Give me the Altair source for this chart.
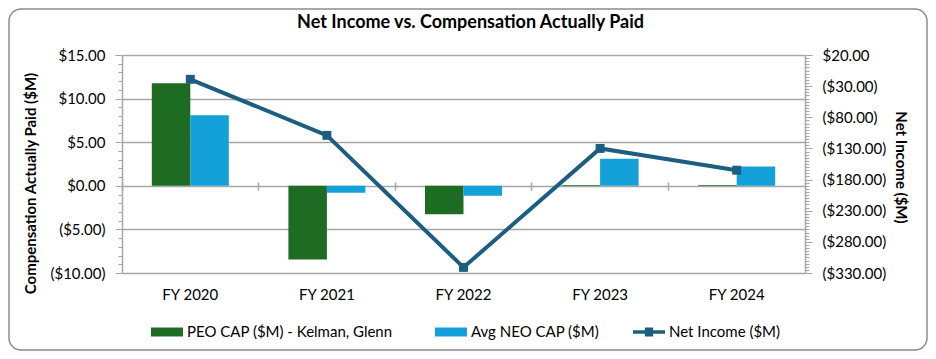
import altair as alt
import pandas as pd

# ---- data ----
years = ["FY 2020", "FY 2021", "FY 2022", "FY 2023", "FY 2024"]
peo_cap = [11.75, -8.45, -3.25, 0.08, 0.08]
neo_cap = [8.1, -0.8, -1.15, 3.1, 2.2]
net_income = [-19.0, -109.0, -321.0, -130.0, -165.0]
series = ["PEO CAP ($M) - Kelman, Glenn", "Avg NEO CAP ($M)", "Net Income ($M)"]
colors = ["#1e6b23", "#14a0d8", "#1b5e80"]
left_ticks = list(range(-10, 16))
right_ticks = list(range(-330, 21, 5))

bars_df = pd.DataFrame({
    "year": years * 2,
    "series": [series[0]] * 5 + [series[1]] * 5,
    "value": peo_cap + neo_cap,
})
line_df = pd.DataFrame({"year": years, "value": net_income, "series": [series[2]] * 5})
frame_df = pd.DataFrame({"k": [0]})

FONT = "Lato"
GRID = "#a6a6a6"
W, H = 683, 218
RECT_PATH = "M-1,-0.28L1,-0.28L1,0.28L-1,0.28Z"
LINE_PATH = "M-1,-0.11L1,-0.11L1,0.11L-1,0.11Z M-0.26,-0.28L0.26,-0.28L0.26,0.28L-0.26,0.28Z"

x_scale = alt.Scale(domain=years, paddingInner=0, paddingOuter=0)

x_bottom = alt.X(
    "year:N", sort=years, scale=x_scale,
    axis=alt.Axis(orient="bottom", title=None, labelAngle=0, ticks=False, domain=False,
                  grid=False, labelPadding=14, labelFontSize=15, labelFont=FONT,
                  labelColor="#000000"),
)
x_top = alt.X(
    "year:N", sort=years, scale=x_scale,
    axis=alt.Axis(orient="top", title=None, labels=False, domain=False, grid=False,
                  ticks=True, tickSize=8, tickColor=GRID, tickWidth=1.5,
                  bandPosition=0, offset=-135),
)

left_label = ("datum.value % 5 != 0 ? '' : (datum.value < 0 ? '($' + format(-datum.value, '.2f') + ')'"
              " : '$' + format(datum.value, '.2f'))")
right_label = ("(datum.value - 20) % 50 != 0 ? '' : (datum.value < 0 ? '($' + format(-datum.value, '.2f') + ')'"
               " : '$' + format(datum.value, '.2f'))")

y_left = alt.Y(
    "value:Q",
    scale=alt.Scale(domain=[-10, 15], nice=False, zero=False),
    axis=alt.Axis(
        values=left_ticks, labelExpr=left_label, orient="left",
        title="Compensation Actually Paid ($M)", titleFont=FONT, titleFontSize=15,
        titleFontWeight="bold", titleColor="#000000", titleAngle=270,
        titleX=-92, titleY=128, titleAlign="center", titleBaseline="middle",
        labelFont=FONT, labelFontSize=15, labelColor="#000000", labelPadding=10,
        domainColor=GRID, domainWidth=1.5, tickColor=GRID,
        tickSize={"condition": {"test": "datum.value % 5 == 0", "value": 7}, "value": 4},
        gridColor=GRID, gridWidth=1.5,
        gridOpacity={"condition": {"test": "datum.value % 5 == 0", "value": 1}, "value": 0},
    ),
)

y_right = alt.Y(
    "value:Q",
    scale=alt.Scale(domain=[-330, 20], nice=False, zero=False),
    axis=alt.Axis(
        values=right_ticks, labelExpr=right_label, orient="right",
        title="Net Income ($M)", titleFont=FONT, titleFontSize=15,
        titleFontWeight="bold", titleColor="#000000", titleAngle=90,
        titleX=95, titleY=112, titleAlign="center", titleBaseline="middle",
        labelFont=FONT, labelFontSize=15, labelColor="#000000", labelPadding=10,
        domainColor=GRID, domainWidth=1.5, tickColor=GRID,
        tickSize={"condition": {"test": "(datum.value - 20) % 50 == 0", "value": 7}, "value": 4},
        grid=False,
    ),
)

legend_common = dict(
    orient="none", direction="horizontal", title=None, legendY=261,
    labelFont=FONT, labelFontSize=15, labelColor="#000000", columnPadding=42,
    labelOffset=4, labelLimit=400, symbolSize=1024, symbolStrokeWidth=0, symbolOpacity=1,
)

bars = alt.Chart(bars_df).mark_bar().encode(
    x=x_bottom,
    xOffset=alt.XOffset("series:N", sort=series[:2],
                        scale=alt.Scale(domain=series[:2], paddingInner=0, paddingOuter=0.774)),
    y=y_left,
    color=alt.Color("series:N", scale=alt.Scale(domain=series[:2], range=colors[:2]),
                    legend=alt.Legend(legendX=29, symbolType=RECT_PATH, **legend_common)),
)

line = alt.Chart(line_df).mark_line(color=colors[2], strokeWidth=4).encode(x=x_top, y=y_right)
points = alt.Chart(line_df).mark_point(shape="square", filled=True, size=80, opacity=1).encode(
    x=x_top, y=y_right,
    color=alt.Color("series:N",
                    scale=alt.Scale(domain=[series[2]], range=[colors[2]]),
                    legend=alt.Legend(legendX=511, symbolType=LINE_PATH, **legend_common)),
)

frame = alt.Chart(frame_df).mark_rect(fill="transparent", stroke="#8c8c8c", strokeWidth=1.5,
                                      cornerRadius=12).encode(
    x=alt.value(-113), x2=alt.value(W + 122), y=alt.value(-46), y2=alt.value(H + 77))

chart = alt.layer(frame, bars, alt.layer(line, points)).resolve_scale(
    y="independent", color="independent").resolve_axis(x="independent").properties(
    width=W, height=H,
    autosize=alt.AutoSizeParams(type="none"),
    padding={"left": 114, "top": 47, "right": 123, "bottom": 78},
    title=alt.TitleParams("Net Income vs. Compensation Actually Paid", font=FONT, fontSize=18,
                          fontWeight="bold", color="#000000", anchor="middle", dx=7,
                          offset=-22, baseline="bottom", dy=20),
).configure_view(stroke="transparent")

chart.save("out.html", embed_options={"renderer": "svg", "actions": False})
